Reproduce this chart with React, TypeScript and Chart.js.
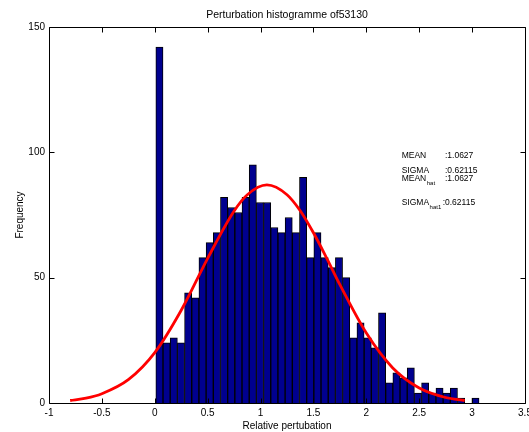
import React, { useEffect, useRef } from 'react';
import { Chart, registerables } from 'chart.js';

Chart.register(...registerables);

const TITLE = 'Perturbation histogramme of53130';
const X_LABEL = 'Relative pertubation';
const Y_LABEL = 'Frequency';

// histogram bins
const BIN_START = 0.01;
const BIN_WIDTH = 0.0679;
const counts = [
  142, 24, 26, 24, 44, 42, 58, 64, 68, 82,
  78, 76, 82, 95, 80, 80, 70, 68, 74, 68,
  90, 58, 68, 58, 54, 58, 50, 26, 32, 26,
  22, 36, 8, 12, 10, 14, 4, 8, 4, 6,
  4, 6, 2, 0, 2,
];

// fitted normal curve
const fitX = [-0.8, -0.65, -0.5, -0.25, 0, 0.25, 0.5, 0.75, 0.875, 1.06, 1.25, 1.375, 1.5, 1.625, 1.75, 2.0, 2.25, 2.5, 2.75, 2.93];
const fitY = [1.0, 1.9, 3.7, 9.3, 20.1, 37.0, 57.7, 76.6, 83.1, 87.0, 83.1, 76.7, 67.9, 57.8, 47.2, 27.9, 14.0, 6.0, 2.2, 1.0];

// axis ranges / ticks
const X_MIN = -1;
const X_MAX = 3.5;
const X_STEP = 0.5;
const Y_MIN = 0;
const Y_MAX = 150;
const Y_STEP = 50;

// stats text
const statNames = ['MEAN', 'SIGMA', 'MEAN', 'SIGMA'];
const statSubs = ['', '', 'hat', 'hat1'];
const statValues = [':1.0627', ':0.62115', ':1.0627', ':0.62115'];
const STAT_ANCHOR_X = 2.334;
const STAT_ANCHOR_Y = 98.6;

const FONT = '"Liberation Sans", Arial, Helvetica, sans-serif';

const overlayPlugin = {
  id: 'overlay',
  afterDraw(chart: any) {
    const { ctx, chartArea, scales } = chart;
    const xs = scales.x;
    const ys = scales.y;
    const L = Math.round(chartArea.left) + 0.5;
    const R = Math.round(chartArea.right) + 0.5;
    const T = Math.round(chartArea.top) + 0.5;
    const B = Math.round(chartArea.bottom) + 0.5;
    ctx.save();
    ctx.strokeStyle = '#000';
    ctx.lineWidth = 1;
    ctx.beginPath();
    ctx.rect(L, T, R - L, B - T);
    ctx.stroke();
    const TL = 5;
    ctx.beginPath();
    xs.ticks.forEach((t: any) => {
      const p = Math.round(xs.getPixelForValue(t.value)) + 0.5;
      ctx.moveTo(p, B);
      ctx.lineTo(p, B - TL);
      ctx.moveTo(p, T);
      ctx.lineTo(p, T + TL);
    });
    ys.ticks.forEach((t: any) => {
      const p = Math.round(ys.getPixelForValue(t.value)) + 0.5;
      ctx.moveTo(L, p);
      ctx.lineTo(L + TL, p);
      ctx.moveTo(R, p);
      ctx.lineTo(R - TL, p);
    });
    ctx.stroke();

    // title
    ctx.fillStyle = '#000';
    ctx.font = `10.5px ${FONT}`;
    ctx.textAlign = 'center';
    ctx.textBaseline = 'middle';
    ctx.fillText(TITLE, (chartArea.left + chartArea.right) / 2, 15.5);

    // stats block
    const ax = xs.getPixelForValue(STAT_ANCHOR_X);
    const ay = ys.getPixelForValue(STAT_ANCHOR_Y);
    const rowDy = [0, 14.5, 23, 46.7];
    const valDx = [43.3, 43.3, 43.3, 41];
    ctx.textAlign = 'left';
    for (let i = 0; i < statNames.length; i++) {
      const yy = ay + rowDy[i];
      ctx.font = `8.5px ${FONT}`;
      ctx.fillText(statNames[i], ax, yy);
      const w = ctx.measureText(statNames[i]).width;
      if (statSubs[i]) {
        ctx.font = `6px ${FONT}`;
        ctx.fillText(statSubs[i], ax + w + 0.5, yy + 5);
      }
      ctx.font = `8.5px ${FONT}`;
      ctx.fillText(statValues[i], ax + valDx[i], yy);
    }
    ctx.restore();
  },
};

export default function App() {
  const ref = useRef<HTMLCanvasElement | null>(null);

  useEffect(() => {
    document.body.style.margin = '0';
    document.body.style.overflow = 'hidden';
    const canvas = ref.current;
    if (!canvas) return;

    const barData = counts.map((c, i) => ({ x: BIN_START + (i + 0.5) * BIN_WIDTH, y: c }));
    const lineData = fitX.map((x, i) => ({ x, y: fitY[i] }));

    const chart = new Chart(canvas, {
      type: 'bar',
      data: {
        datasets: [
          {
            type: 'line',
            data: lineData,
            borderColor: '#ff0000',
            borderWidth: 2.8,
            pointRadius: 0,
            cubicInterpolationMode: 'monotone',
            fill: false,
            order: 0,
          } as any,
          {
            type: 'bar',
            data: barData,
            backgroundColor: 'rgb(0,0,143)',
            borderColor: '#000',
            borderWidth: 1,
            barPercentage: 1,
            categoryPercentage: 1,
            order: 1,
          } as any,
        ],
      },
      options: {
        responsive: false,
        animation: false,
        devicePixelRatio: 1,
        layout: { padding: { top: 27, right: 4, bottom: 0, left: 0 } },
        plugins: {
          legend: { display: false },
          tooltip: { enabled: false },
          title: { display: false },
        },
        scales: {
          x: {
            type: 'linear',
            min: X_MIN,
            max: X_MAX,
            offset: false,
            grid: { display: false, drawTicks: false },
            border: { display: false },
            ticks: {
              stepSize: X_STEP,
              autoSkip: false,
              maxRotation: 0,
              padding: 4,
              color: '#000',
              font: { family: FONT, size: 10 },
              callback: (v: any) => String(v),
            },
            title: {
              display: true,
              text: X_LABEL,
              color: '#000',
              font: { family: FONT, size: 10 },
              padding: { top: 0, bottom: 0 },
            },
            afterFit: (s: any) => {
              s.height = 29;
              s.paddingLeft = 0;
              s.paddingRight = 0;
            },
          },
          y: {
            type: 'linear',
            min: Y_MIN,
            max: Y_MAX,
            grid: { display: false, drawTicks: false },
            border: { display: false },
            ticks: {
              stepSize: Y_STEP,
              padding: 4,
              color: '#000',
              font: { family: FONT, size: 10 },
            },
            title: {
              display: true,
              text: Y_LABEL,
              color: '#000',
              font: { family: FONT, size: 10 },
              padding: { top: 14, bottom: 0 },
            },
            afterFit: (s: any) => {
              s.width = 49;
              s.paddingTop = 0;
              s.paddingBottom = 0;
            },
          },
        },
      } as any,
      plugins: [overlayPlugin],
    });

    return () => chart.destroy();
  }, []);

  return (
    <div style={{ width: 529, height: 432 }}>
      <canvas ref={ref} width={529} height={432} style={{ display: 'block', width: 529, height: 432 }} />
    </div>
  );
}
